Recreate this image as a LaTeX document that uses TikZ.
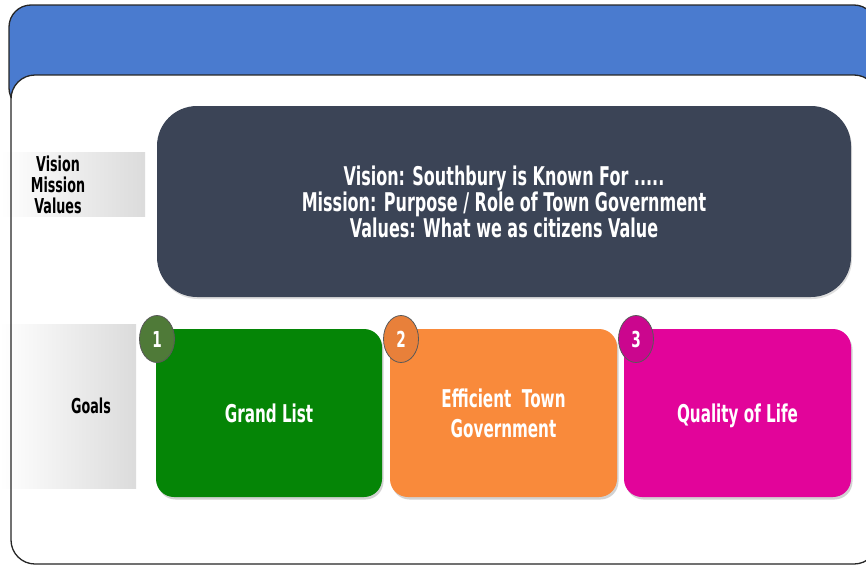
\documentclass[tikz,border=0pt]{standalone}
\usepackage{fontspec}
\newfontfamily\cf[FakeStretch=0.62]{DejaVu Sans}
\usetikzlibrary{shadows,shapes.geometric}
\definecolor{topblue}{HTML}{4A7BCF}
\definecolor{darkbg}{HTML}{3B4456}
\definecolor{ggreen}{HTML}{058506}
\definecolor{cgreen}{HTML}{4F7A38}
\definecolor{gorange}{HTML}{F98A3B}
\definecolor{corange}{HTML}{E8803A}
\definecolor{gmag}{HTML}{E2049A}
\definecolor{cmag}{HTML}{CB068E}
\tikzset{
  band/.style={shade, left color=white, right color=black!14, inner sep=0, draw=none},
  lbl/.style={font=\cf\bfseries\fontsize{20.5}{21}\selectfont, text=black, align=center, inner sep=0},
  darkbox/.style={fill=darkbg, rounded corners=40pt, inner sep=0,
    drop shadow={shadow xshift=1pt, shadow yshift=-2pt, opacity=0.25},
    font=\cf\bfseries\fontsize{25.8}{24.5}\selectfont, text=white, align=center},
  goalbox/.style={rounded corners=18pt, minimum width=226pt, minimum height=168pt, inner sep=0,
    drop shadow={shadow xshift=1.5pt, shadow yshift=-2.5pt, opacity=0.35},
    font=\cf\bfseries\fontsize{24.5}{30}\selectfont, text=white, align=center},
  numdot/.style={ellipse, minimum width=35pt, minimum height=47pt, inner sep=0,
    draw=black!65, line width=0.8pt,
    font=\cf\bfseries\fontsize{22}{22}\selectfont, text=white},
  frame/.style={draw=black!85, line width=1.3pt}
}
\begin{document}
\begin{tikzpicture}[x=1pt,y=-1pt]
\useasboundingbox (0,0) rectangle (866,565);
\clip (0,0) rectangle (866,565);
% top blue band
\fill[topblue] (9,5) [rounded corners=22pt] rectangle (876,110);
\draw[frame] (9,5) [rounded corners=22pt] rectangle (876,110);
% white panel
\fill[white] (11,75) [rounded corners=24pt] rectangle (878,564);
% label bands
\node[band, minimum width=145pt, minimum height=64pt] (vmvband) at (72.5,184) {};
\node[band, minimum width=136pt, minimum height=164pt] (goalband) at (68,406) {};
% white panel outline
\draw[frame] (11,75) [rounded corners=24pt] rectangle (878,564);
% labels
\node[lbl] (vmvlbl) at (58,185) {Vision\\Mission\\Values};
\node[lbl] (goallbl) at (91,406) {Goals};
% vision / mission box
\node[darkbox, minimum width=694pt, minimum height=191pt] (vmv) at (504,201.5)
  {Vision: Southbury is Known For .....\\Mission: Purpose / Role of Town Government\\Values: What we as citizens Value};
% goal boxes
\node[goalbox, fill=ggreen] (g1) at (269,413) {Grand List};
\node[goalbox, fill=gorange, minimum width=227pt] (g2) at (503.5,413) {Efficient\ \ Town\\Government};
\node[goalbox, fill=gmag, minimum width=227pt, text depth=0pt] (g3) at (737.5,413) {Quality of Life};
% number badges
\node[numdot, fill=cgreen] (n1) at (157,339) {1};
\node[numdot, fill=corange] (n2) at (401,339) {2};
\node[numdot, fill=cmag] (n3) at (636,339) {3};
\end{tikzpicture}
\end{document}
